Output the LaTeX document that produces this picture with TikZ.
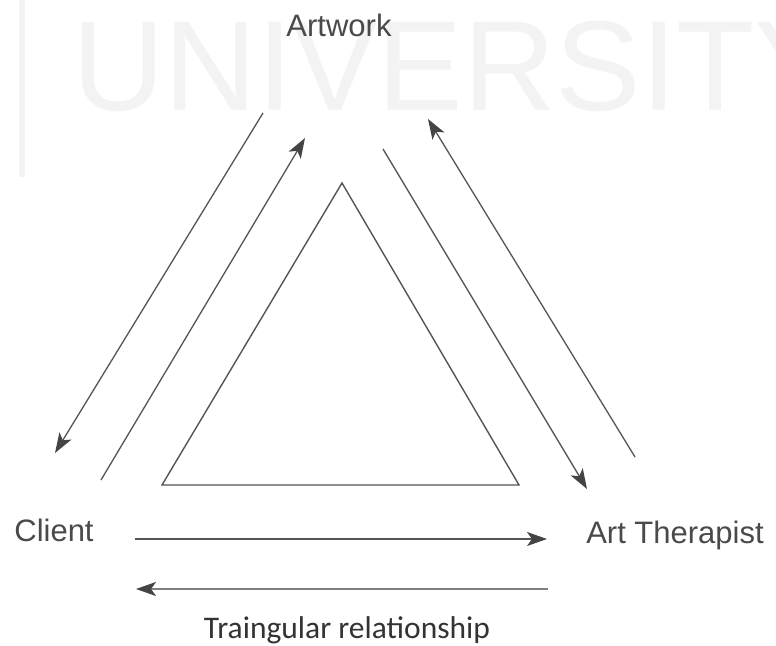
\documentclass[tikz,border=0pt]{standalone}
\usepackage{fontspec}
\setmainfont{Liberation Sans}
\newfontfamily\captionfont{Carlito}
\usetikzlibrary{arrows.meta}
\definecolor{inkline}{HTML}{555555}
\definecolor{inkhead}{HTML}{444444}
\definecolor{inktext}{HTML}{4A4A4A}
\definecolor{wmark}{HTML}{F3F3F3}
\begin{document}
\begin{tikzpicture}[x=1pt,y=-1pt,
  label/.style={font=\fontsize{31}{31}\selectfont, text=inktext, inner sep=0pt, anchor=base},
  link/.style={draw=inkline, line width=1.3pt,
    -{Stealth[length=20pt,width=14pt,inset=5pt,color=inkhead]}},
  tri/.style={draw=inkline, line width=1.4pt, line join=miter}]
\useasboundingbox[fill=white] (0,0) rectangle (776,645);

% faint watermark in the background
\fill[wmark] (19,0) rectangle (25,177);
\node[font=\fontsize{128}{128}\selectfont, text=wmark, inner sep=0pt, anchor=base west]
  (wm) at (72,110) {UNIVERSITY};

% labels
\node[label] (artwork) at (339,36) {Artwork};
\node[label] (client) at (54,541) {Client};
\node[label] (therapist) at (675,543) {Art Therapist};
\node[font=\captionfont\fontsize{31.5}{31.5}\selectfont, text=black!80, inner sep=0pt, anchor=base]
  (caption) at (347,638) {Traingular relationship};

% central triangle
\coordinate (apex) at (342,183);
\coordinate (bl) at (162,485);
\coordinate (br) at (519,485);
\draw[tri] (apex) -- (bl) -- (br) -- cycle;

% connector end points
\coordinate (a1) at (263,113);  \coordinate (c1) at (55,453);
\coordinate (c2) at (101,480);  \coordinate (a2) at (305,138);
\coordinate (a3) at (383,149);  \coordinate (t3) at (587,489);
\coordinate (t4) at (635,457);  \coordinate (a4) at (428,119);
\coordinate (c5) at (135,539);  \coordinate (t5) at (547,539);
\coordinate (t6) at (548,589);  \coordinate (c6) at (136,589);

% two-way flows between the three parties
\draw[link] (a1) -- (c1);
\draw[link] (c2) -- (a2);
\draw[link] (a3) -- (t3);
\draw[link] (t4) -- (a4);
\draw[link] (c5) -- (t5);
\draw[link, draw=inkline!75, line width=1.8pt] (t6) -- (c6);
\end{tikzpicture}
\end{document}
